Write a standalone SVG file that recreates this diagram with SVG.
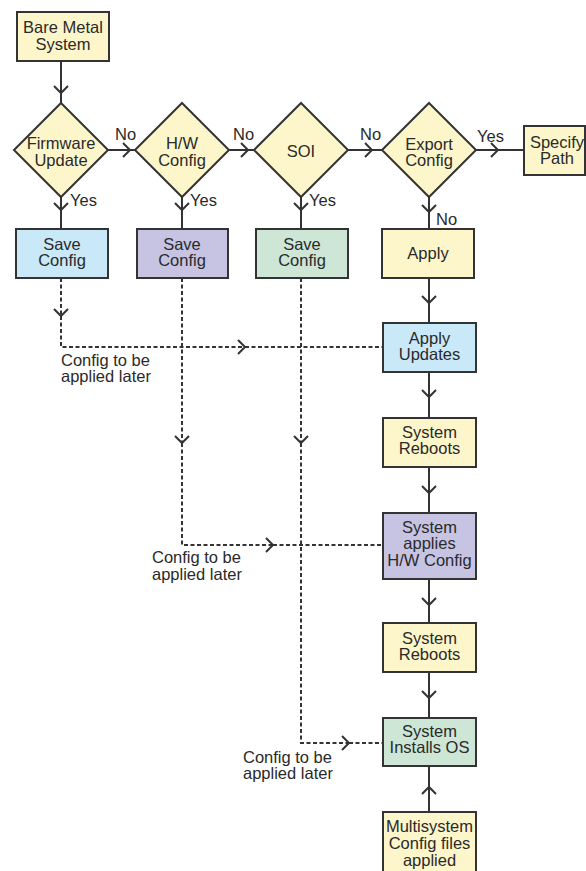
<svg xmlns="http://www.w3.org/2000/svg" width="586" height="871" viewBox="0 0 586 871">
<style>
.box{stroke:#333;stroke-width:2}
.y{fill:#fdf6cb}
.b{fill:#c9e8f8}
.p{fill:#c6c4e2}
.g{fill:#cde6d5}
text{font-family:"Liberation Sans",Arial,sans-serif;font-size:16.5px;fill:#2a2a2a}
.c{text-anchor:middle}
.ln{fill:none;stroke:#333;stroke-width:2}
.ds{fill:none;stroke:#333;stroke-width:2;stroke-dasharray:4 2.5}
</style>
<defs>
<marker id="chev" markerUnits="userSpaceOnUse" markerWidth="20" markerHeight="20" viewBox="-10 -10 20 20" refX="0" refY="0" orient="auto" overflow="visible">
<path d="M-7,-7 L0,0 L-7,7" fill="none" stroke="#333" stroke-width="2" stroke-dasharray="none"/>
</marker>
</defs>
<rect width="586" height="871" fill="#fff"/>

<g id="connectors">
<path class="ln" d="M61,61 L61,93 L61,103" marker-mid="url(#chev)"/>
<path class="ln" d="M108,150 L130,150 L135,150" marker-mid="url(#chev)"/>
<path class="ln" d="M229,150 L248,150 L254,150" marker-mid="url(#chev)"/>
<path class="ln" d="M348,150 L372,150 L382,150" marker-mid="url(#chev)"/>
<path class="ln" d="M476,150 L498,150 L524,150" marker-mid="url(#chev)"/>
<path class="ln" d="M61,197 L61,210 L61,229" marker-mid="url(#chev)"/>
<path class="ln" d="M182,197 L182,210 L182,229" marker-mid="url(#chev)"/>
<path class="ln" d="M301,197 L301,210 L301,229" marker-mid="url(#chev)"/>
<path class="ln" d="M429,197 L429,212 L429,229" marker-mid="url(#chev)"/>
<path class="ln" d="M429,278 L429,303 L429,323" marker-mid="url(#chev)"/>
<path class="ln" d="M429,372 L429,397 L429,418" marker-mid="url(#chev)"/>
<path class="ln" d="M429,467 L429,493 L429,513" marker-mid="url(#chev)"/>
<path class="ln" d="M429,579 L429,605 L429,623" marker-mid="url(#chev)"/>
<path class="ln" d="M429,672 L429,698 L429,718" marker-mid="url(#chev)"/>
<path class="ln" d="M429,812 L429,787 L429,766" marker-mid="url(#chev)"/>
<path class="ds" d="M61,278 L61,316" marker-end="url(#chev)"/>
<path class="ds" d="M61,316 L61,347 L245,347" marker-end="url(#chev)"/>
<path class="ds" d="M245,347 L383,347"/>
<path class="ds" d="M182,278 L182,443" marker-end="url(#chev)"/>
<path class="ds" d="M182,443 L182,545 L273,545" marker-end="url(#chev)"/>
<path class="ds" d="M273,545 L383,545"/>
<path class="ds" d="M301,278 L301,443" marker-end="url(#chev)"/>
<path class="ds" d="M301,443 L301,743 L349,743" marker-end="url(#chev)"/>
<path class="ds" d="M349,743 L383,743"/>
<text x="115" y="140">No</text>
<text x="233" y="140">No</text>
<text x="360" y="140">No</text>
<text x="477" y="142">Yes</text>
<text x="70" y="206">Yes</text>
<text x="190" y="206">Yes</text>
<text x="309" y="206">Yes</text>
<text x="436" y="225">No</text>
<text x="61" y="366">Config to be</text>
<text x="61" y="382">applied later</text>
<text x="152" y="563">Config to be</text>
<text x="152" y="580">applied later</text>
<text x="243" y="763">Config to be</text>
<text x="243" y="779">applied later</text>
</g>

<g id="bare-metal">
<rect class="box y" x="17" y="12" width="92" height="49"/>
<text class="c" x="63" y="33">Bare Metal</text>
<text class="c" x="63" y="50">System</text>
</g>

<g id="firmware-update">
<polygon class="box y" points="61,103 108,150 61,197 14,150"/>
<text class="c" x="61" y="149">Firmware</text>
<text class="c" x="61" y="166">Update</text>
</g>

<g id="hw-config">
<polygon class="box y" points="182,103 229,150 182,197 135,150"/>
<text class="c" x="182" y="149">H/W</text>
<text class="c" x="182" y="166">Config</text>
</g>

<g id="soi">
<polygon class="box y" points="301,103 348,150 301,197 254,150"/>
<text class="c" x="301" y="157">SOI</text>
</g>

<g id="export-config">
<polygon class="box y" points="429,103 476,150 429,197 382,150"/>
<text class="c" x="429" y="150">Export</text>
<text class="c" x="429" y="166">Config</text>
</g>

<g id="specify-path">
<rect class="box y" x="524" y="126" width="61" height="49"/>
<text class="c" x="557" y="148">Specify</text>
<text class="c" x="557" y="164">Path</text>
</g>

<g id="save-config-1">
<rect class="box b" x="16" y="229" width="92" height="49"/>
<text class="c" x="62" y="250">Save</text>
<text class="c" x="62" y="266">Config</text>
</g>

<g id="save-config-2">
<rect class="box p" x="137" y="229" width="91" height="49"/>
<text class="c" x="182" y="250">Save</text>
<text class="c" x="182" y="266">Config</text>
</g>

<g id="save-config-3">
<rect class="box g" x="256" y="229" width="92" height="49"/>
<text class="c" x="302" y="250">Save</text>
<text class="c" x="302" y="266">Config</text>
</g>

<g id="apply">
<rect class="box y" x="382" y="229" width="92" height="49"/>
<text class="c" x="428" y="259">Apply</text>
</g>

<g id="apply-updates">
<rect class="box b" x="383" y="323" width="93" height="49"/>
<text class="c" x="429.5" y="344">Apply</text>
<text class="c" x="429.5" y="360">Updates</text>
</g>

<g id="system-reboots-1">
<rect class="box y" x="383" y="418" width="93" height="49"/>
<text class="c" x="429.5" y="438">System</text>
<text class="c" x="429.5" y="454">Reboots</text>
</g>

<g id="system-applies-hw">
<rect class="box p" x="383" y="513" width="93" height="66"/>
<text class="c" x="429.5" y="533">System</text>
<text class="c" x="429.5" y="549">applies</text>
<text class="c" x="429.5" y="566">H/W Config</text>
</g>

<g id="system-reboots-2">
<rect class="box y" x="383" y="623" width="93" height="49"/>
<text class="c" x="429.5" y="644">System</text>
<text class="c" x="429.5" y="660">Reboots</text>
</g>

<g id="system-installs-os">
<rect class="box g" x="383" y="718" width="93" height="48"/>
<text class="c" x="429.5" y="737">System</text>
<text class="c" x="429.5" y="753">Installs OS</text>
</g>

<g id="multisystem">
<rect class="box y" x="383" y="812" width="93" height="70"/>
<text class="c" x="429.5" y="832">Multisystem</text>
<text class="c" x="429.5" y="849">Config files</text>
<text class="c" x="429.5" y="866">applied</text>
</g>
</svg>
